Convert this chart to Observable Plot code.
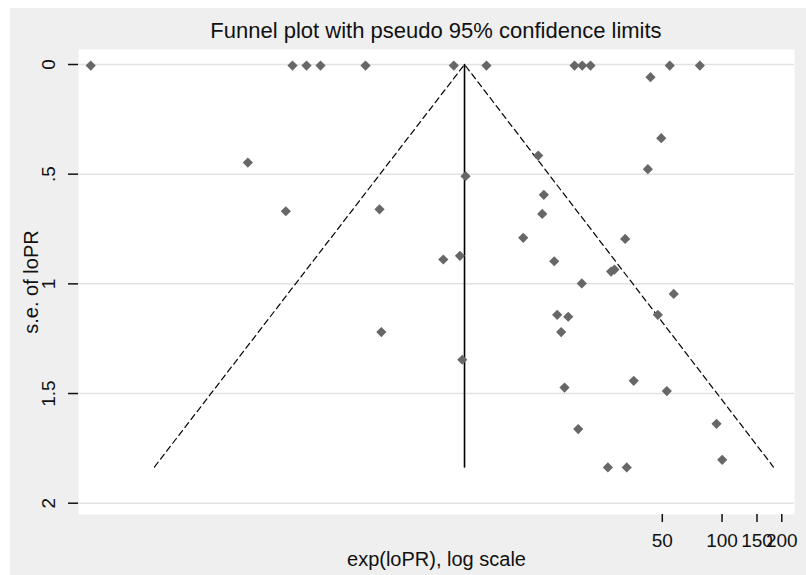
<!DOCTYPE html>
<html>
<head>
<meta charset="utf-8">
<script src="https://cdn.jsdelivr.net/npm/d3@7"></script>
<script src="https://cdn.jsdelivr.net/npm/@observablehq/plot@0.6"></script>
<style>
  html, body { margin: 0; padding: 0; background: #ffffff; }
  #wrap { margin: 8px 0 0 10px; width: 796px; height: 567px; background: #efefef; overflow: hidden; }
  #title { padding: 10px 12px 0 68px; height: 26px; line-height: 26px; text-align: center;
           font-family: "Liberation Sans", Arial, sans-serif; font-size: 22px; color: #111; }
  #chart svg { display: block; }
</style>
</head>
<body>
<div id="wrap">
  <div id="title">Funnel plot with pseudo 95% confidence limits</div>
  <div id="chart"></div>
</div>
<script>
// Study estimates: exp(loPR) and standard error of loPR
const studyPR = [
  0.0659, 0.685, 0.806, 0.948, 1.598, 4.45, 6.50, 18.06, 19.75, 21.74, 54.5, 77.3,
  43.6, 49.4, 11.85, 0.408, 42.3, 5.10, 12.65, 0.634, 1.88, 12.42,
  9.96, 32.5, 3.94, 4.78, 14.27, 27.6, 28.7, 19.65, 57.1,
  14.77, 16.79, 47.5, 1.92, 15.47, 4.91, 35.9, 16.08, 52.7,
  93.8, 18.85, 100.2, 26.6, 33.1
];
const studySE = [
  0.005, 0.005, 0.005, 0.005, 0.005, 0.005, 0.005, 0.005, 0.005, 0.005, 0.005, 0.005,
  0.058, 0.336, 0.415, 0.447, 0.477, 0.509, 0.594, 0.669, 0.660, 0.681,
  0.790, 0.795, 0.889, 0.872, 0.897, 0.944, 0.935, 0.998, 1.046,
  1.141, 1.150, 1.141, 1.220, 1.220, 1.346, 1.442, 1.473, 1.489,
  1.638, 1.662, 1.802, 1.837, 1.837
];

// Pooled estimate and pseudo 95% limits
const funnelPR = [0.138, 5.04, 181.6];
const funnelSE = [1.835, 0, 1.835];
const centerPR = [5.04, 5.04];
const centerSE = [0, 1.835];

// Axis ticks
const xTicks = [50, 100, 150, 200];
const xTickLabels = ["50", "100", "150", "200"];
const yTicks = [0, 0.5, 1, 1.5, 2];
const yTickLabels = ["0", ".5", "1", "1.5", "2"];

const studies = studyPR.map((v, i) => ({pr: v, se: studySE[i]}));
const funnel = funnelPR.map((v, i) => ({pr: v, se: funnelSE[i]}));
const center = centerPR.map((v, i) => ({pr: v, se: centerSE[i]}));
const xTickData = xTicks.map((v, i) => ({pr: v, label: xTickLabels[i]}));

const lookup = (ticks, labels) => d => {
  const i = ticks.findIndex(t => Math.abs(t - d) < 1e-6 * Math.max(1, Math.abs(t)));
  return i >= 0 ? labels[i] : String(d);
};

const font = "Liberation Sans, Arial, sans-serif";

const chart = Plot.plot({
  width: 796,
  height: 523,
  marginLeft: 68,
  marginRight: 12,
  marginTop: 5,
  marginBottom: 53,
  style: {background: "transparent", color: "#111", fontFamily: font, fontSize: "19px", overflow: "visible"},
  x: {type: "log", domain: [0.0572, 231.8]},
  y: {domain: [-0.0684, 2.0515], reverse: true},
  marks: [
    Plot.frame({fill: "white", stroke: null}),
    Plot.gridY(yTicks, {stroke: "#e2e2e2", strokeOpacity: 1, strokeWidth: 1.5}),
    Plot.line(funnel, {x: "pr", y: "se", stroke: "#000", strokeWidth: 1.2, strokeDasharray: "6,4"}),
    Plot.line(center, {x: "pr", y: "se", stroke: "#000", strokeWidth: 1.6}),
    Plot.dot(studies, {x: "pr", y: "se", symbol: "diamond2", r: 4.6, fill: "#676767", stroke: null}),
    Plot.axisX({ticks: xTicks, tickSize: 8, fill: "none", label: null, line: true, strokeWidth: 1.5, stroke: "#111"}),
    Plot.text(xTickData, {x: "pr", text: "label", frameAnchor: "bottom", lineAnchor: "top", dy: 19, fontSize: 19, fill: "#111"}),
    Plot.axisY({ticks: yTicks, tickFormat: lookup(yTicks, yTickLabels), tickSize: 10, tickPadding: 14,
                tickRotate: -90, fontSize: 19, label: null, line: true, strokeWidth: 1.5, stroke: "#111"}),
    Plot.text(["exp(loPR), log scale"], {frameAnchor: "bottom", lineAnchor: "bottom", dy: 51, fontSize: 20, fill: "#111"}),
    Plot.text(["s.e. of loPR"], {frameAnchor: "left", lineAnchor: "bottom", textAnchor: "middle", rotate: -90, dx: -41, fontSize: 20, fill: "#111"})
  ]
});
document.getElementById("chart").appendChild(chart);
</script>
</body>
</html>
